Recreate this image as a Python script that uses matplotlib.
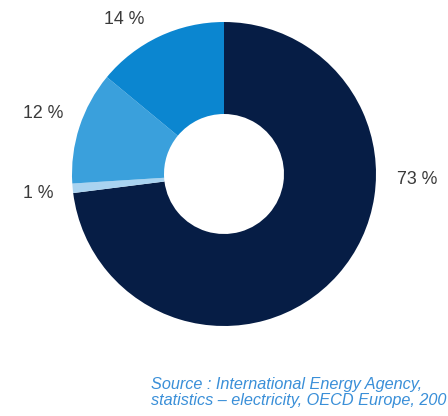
import matplotlib
matplotlib.use("Agg")
import matplotlib.pyplot as plt

shares = [73, 1, 12, 14]
labels = ["73 %", "1 %", "12 %", "14 %"]
colors = ["#061d45", "#a9d3f0", "#3aa0dc", "#0b86d0"]
source_lines = ["Source : International Energy Agency,",
                "statistics \u2013 electricity, OECD Europe, 2007"]

W, H = 448, 416
fig = plt.figure(figsize=(W / 100, H / 100), dpi=100)
ax = fig.add_axes([0, 0, 1, 1])

cx, cy, R, r_in = 224, H - 174, 152, 60
ax.pie(shares, colors=colors, startangle=90, counterclock=False,
       center=(cx, cy), radius=R,
       wedgeprops=dict(width=R - r_in, linewidth=0))
ax.set_xlim(0, W)
ax.set_ylim(0, H)
ax.set_aspect("equal")
ax.axis("off")

label_pos = [(397, H - 180), (23, H - 194), (23, H - 113), (104, H - 19)]
for (x, y), t in zip(label_pos, labels):
    ax.text(x, y, t, ha="left", va="center", fontsize=12.8,
            family="Liberation Sans", color="#3a3a3a")

for i, line in enumerate(source_lines):
    ax.text(151, H - 384 - 16 * i, line, ha="left", va="center", fontsize=11.7,
            style="italic", family="Liberation Sans", color="#3a8fd8")

fig.savefig("out.png", dpi=100)
